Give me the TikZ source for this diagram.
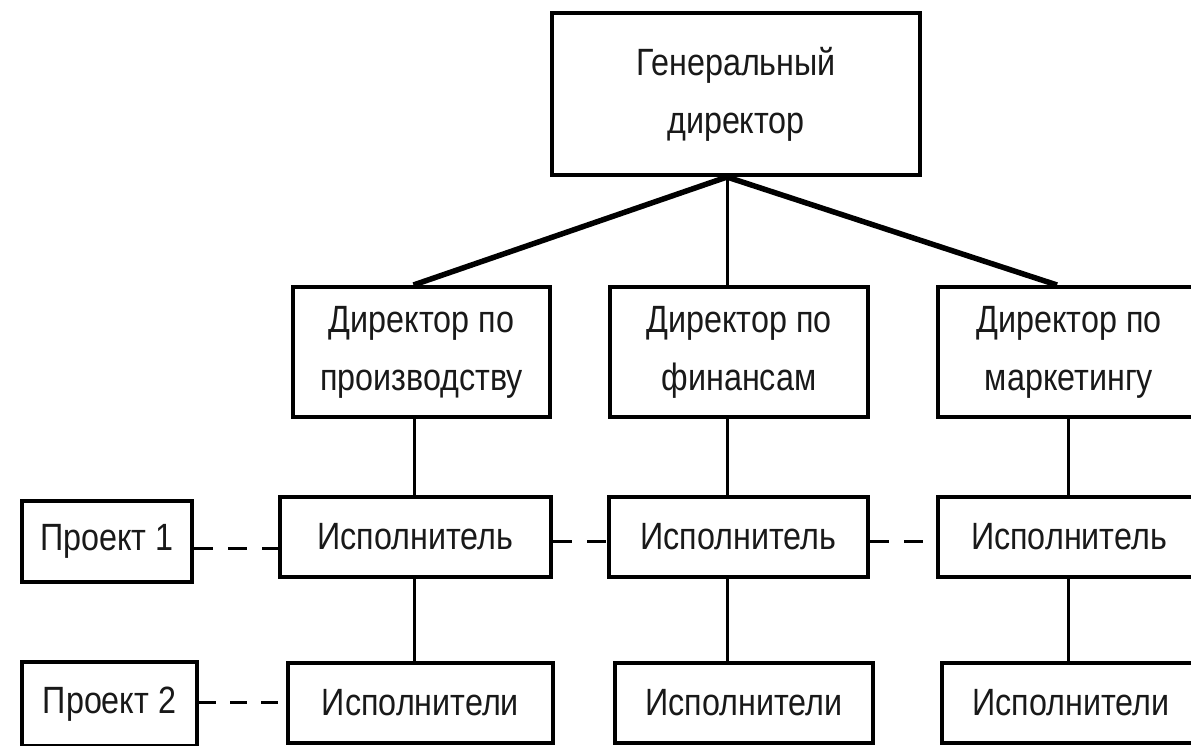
\documentclass[tikz,border=0pt]{standalone}
\usepackage{fontspec}
\setmainfont{Liberation Sans}[FakeStretch=0.85]
\usetikzlibrary{calc}
\begin{document}
\begin{tikzpicture}[x=1pt,y=-1pt,
  box/.style={draw=black, line width=4pt, rectangle, inner sep=0pt, align=center,
    font=\fontsize{38}{58}\selectfont, text=black!90},
  link/.style={line width=3pt},
  slant/.style={line width=5.5pt},
  dlink/.style={line width=3pt, dash pattern=on 19pt off 15pt}]
\useasboundingbox (0,0) rectangle (1191,745);
\clip (0,0) rectangle (1191,745);
\fill[white] (0,0) rectangle (1191,745);

% top
\node[box, minimum width=368pt, minimum height=162pt] (gd) at (736,94) {Генеральный\\директор};
% directors
\node[box, minimum width=257pt, minimum height=130pt] (d1) at (421.5,352) {Директор по\\производству};
\node[box, minimum width=258pt, minimum height=130pt] (d2) at (739,352) {Директор по\\финансам};
\node[box, minimum width=262pt, minimum height=130pt] (d3) at (1069,352) {Директор по\\маркетингу};
% executors
\node[box, minimum width=271pt, minimum height=80pt] (i1) at (415.5,537) {Исполнитель};
\node[box, minimum width=259pt, minimum height=80pt] (i2) at (738.5,537) {Исполнитель};
\node[box, minimum width=262pt, minimum height=80pt] (i3) at (1069,537) {Исполнитель};
\node[box, minimum width=265pt, minimum height=80pt] (e1) at (420.5,703) {Исполнители};
\node[box, minimum width=258pt, minimum height=80pt] (e2) at (744,703) {Исполнители};
\node[box, minimum width=258pt, minimum height=80pt] (e3) at (1071,703) {Исполнители};
% projects
\node[box, minimum width=170pt, minimum height=81pt] (p1) at (107,541.5) {Проект 1};
\node[box, minimum width=175pt, minimum height=84pt] (p2) at (109.5,704) {Проект 2};

% connectors
\coordinate (hub) at ($(gd.south)+(-9,0)$);
\coordinate (x1) at (414,0);
\coordinate (x2) at (727,0);
\coordinate (x3) at (1068,0);
\draw[slant] (hub) -- ($(d1.north)+(-8,0)$);
\draw[link] (hub) -- (hub |- d2.north);
\draw[slant] (hub) -- ($(d3.north)+(-12,0)$);

\draw[link] (d1.south -| x1) -- (i1.north -| x1);
\draw[link] (i1.south -| x1) -- (e1.north -| x1);
\draw[link] (d2.south -| x2) -- (i2.north -| x2);
\draw[link] (i2.south -| x2) -- (e2.north -| x2);
\draw[link] (d3.south -| x3) -- (i3.north -| x3);
\draw[link] (i3.south -| x3) -- (e3.north -| x3);

% dashed project links
\coordinate (r1) at (0,548);
\coordinate (r2) at (0,541);
\coordinate (r3) at (0,702);
\draw[dlink] (p1.east |- r1) -- (i1.west |- r1);
\draw[dlink] (i1.east |- r2) -- (i2.west |- r2);
\draw[dlink] (i2.east |- r2) -- (i3.west |- r2);
\draw[dlink, dash pattern=on 17pt off 14pt] (p2.east |- r3) -- (e1.west |- r3);
\end{tikzpicture}
\end{document}
